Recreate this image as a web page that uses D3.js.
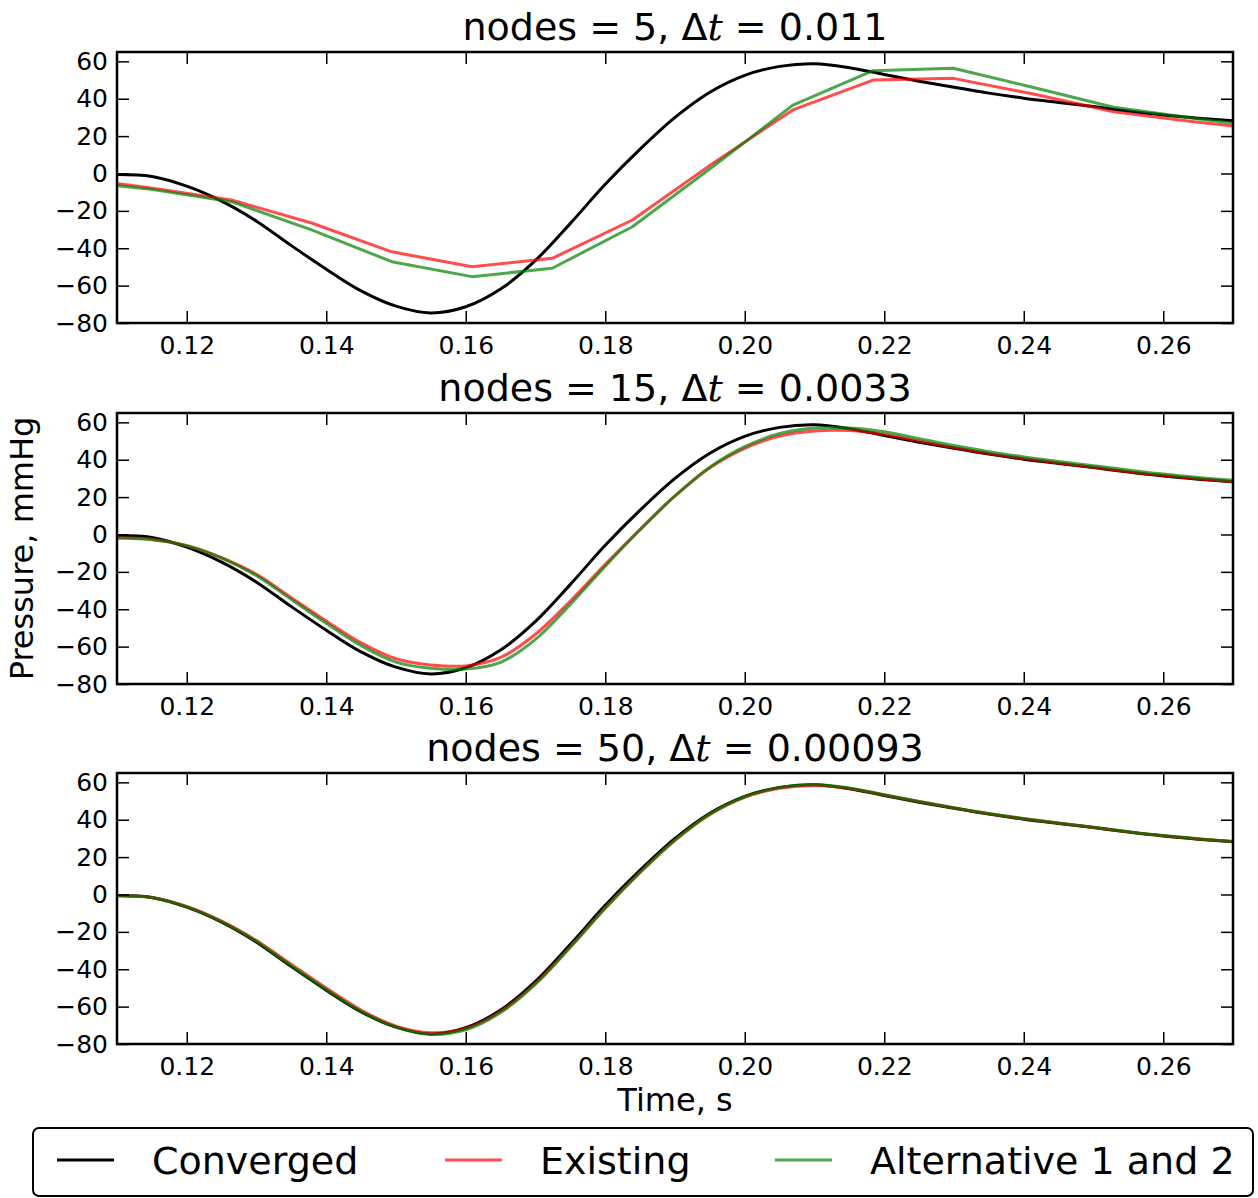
<!DOCTYPE html>
<html>
<head>
<meta charset="utf-8">
<script src="https://cdn.jsdelivr.net/npm/d3@7"></script>
<style>
  body { margin: 0; background: #fff; }
  text { font-family: "DejaVu Sans", sans-serif; fill: #000; }
</style>
</head>
<body>
<div id="chart"></div>
<script>
// Time samples for the smooth curves
var times = [0.110, 0.115, 0.120, 0.125, 0.130, 0.135, 0.140, 0.145, 0.150, 0.155, 0.160,
             0.165, 0.170, 0.175, 0.180, 0.185, 0.190, 0.195, 0.200, 0.205, 0.210, 0.215,
             0.220, 0.225, 0.230, 0.235, 0.240, 0.245, 0.250, 0.255, 0.260, 0.265, 0.270];

// Time steps of the coarse (5 nodes) run
var times5 = [0.1034, 0.1149, 0.1264, 0.1379, 0.1494, 0.1609, 0.1724, 0.1839,
              0.1954, 0.2069, 0.2184, 0.2299, 0.2414, 0.2529, 0.2644, 0.2759];

var converged = [-0.6, -1.6, -6.8, -14.8, -25.5, -38.6, -51.2, -62.8, -71.0, -74.6, -71.3,
                 -61.8, -46.5, -26.7, -5.8, 13.0, 30.0, 43.5, 52.5, 57.3, 58.7, 56.6,
                 53.0, 49.4, 46.1, 43.0, 40.3, 38.0, 35.8, 33.4, 31.3, 29.6, 28.2];

var existing5 = [-2.0, -7.8, -14.2, -26.5, -41.9, -49.9, -45.4, -24.9,
                 5.4, 34.0, 50.0, 50.9, 42.5, 33.0, 27.7, 23.0];
var alternative5 = [-3.8, -8.5, -15.1, -30.2, -47.2, -55.2, -50.7, -28.5,
                    3.6, 36.6, 55.0, 56.3, 46.0, 35.4, 29.5, 24.0];

var existing15 = [-1.7, -2.6, -6.0, -12.4, -21.3, -33.8, -46.3, -58.0, -66.5, -69.8, -70.3,
                  -65.8, -53.4, -35.6, -16.0, 2.8, 20.6, 35.7, 46.1, 52.7, 55.4, 55.6,
                  53.5, 50.0, 46.5, 43.3, 40.6, 38.2, 36.0, 33.6, 31.5, 29.8, 28.2];
var alternative15 = [-1.9, -2.8, -6.0, -12.6, -22.0, -34.8, -47.5, -59.5, -68.3, -71.6, -72.0,
                     -68.4, -56.1, -37.4, -17.0, 2.5, 20.6, 36.0, 47.0, 54.0, 57.0, 57.0,
                     55.0, 51.3, 47.6, 44.3, 41.5, 39.0, 36.8, 34.5, 32.3, 30.5, 29.0];

var existing50 = [-0.7, -1.6, -6.4, -14.2, -24.6, -37.4, -50.0, -61.8, -70.4, -74.0, -71.7,
                  -62.6, -47.6, -28.0, -7.2, 11.8, 29.0, 42.8, 52.0, 56.8, 58.3, 56.7,
                  53.2, 49.7, 46.3, 43.2, 40.5, 38.1, 35.9, 33.5, 31.4, 29.7, 28.3];
var alternative50 = [-0.7, -1.7, -6.6, -14.6, -25.2, -38.2, -50.9, -62.6, -71.0, -74.9, -72.4,
                     -63.2, -48.0, -28.2, -7.3, 11.8, 29.1, 43.0, 52.3, 57.3, 58.9, 57.0,
                     53.4, 49.8, 46.4, 43.3, 40.6, 38.2, 36.0, 33.6, 31.5, 29.8, 28.4];

var panelNodes = ["5", "15", "50"];
var panelDt = ["0.011", "0.0033", "0.00093"];
var seriesNames = ["Converged", "Existing", "Alternative 1 and 2"];
var xTicks = [0.12, 0.14, 0.16, 0.18, 0.20, 0.22, 0.24, 0.26];
var yTicks = [-80, -60, -40, -20, 0, 20, 40, 60];

(function()
{
    //Set dimensions
    var W = 1258, H = 1198;
    var left = 117, right = 1233;
    var panelTops = [52, 413, 773];
    var panelH = 271;
    var colors = ["#000000", "#ff0000", "#008000"];
    var opac = [1, 0.7, 0.7];

    var svg = d3.select("#chart").append("svg")
        .attr("width", W)
        .attr("height", H);

    //Scales
    var x = d3.scaleLinear().domain([0.11, 0.27]).range([0, right - left]);
    var y = d3.scaleLinear().domain([-80, 65]).range([panelH, 0]);

    var panels = [
        [{t: times, v: converged}, {t: times5, v: existing5, linear: true}, {t: times5, v: alternative5, linear: true}],
        [{t: times, v: converged}, {t: times, v: existing15}, {t: times, v: alternative15}],
        [{t: times, v: converged}, {t: times, v: existing50}, {t: times, v: alternative50}]
    ];

    panels.forEach(function(series, p) {
        var g = svg.append("g")
            .attr("transform", "translate(" + left + "," + panelTops[p] + ")");

        g.append("clipPath").attr("id", "clip" + p)
            .append("rect")
            .attr("width", x.range()[1])
            .attr("height", panelH);

        var plot = g.append("g").attr("clip-path", "url(#clip" + p + ")");

        series.forEach(function(s, i) {
            var pts = s.t.map(function(t, j) { return [t, s.v[j]]; });
            var line = d3.line()
                .x(function(d) { return x(d[0]); })
                .y(function(d) { return y(d[1]); })
                .curve(s.linear ? d3.curveLinear : d3.curveCatmullRom.alpha(0.5));
            plot.append("path")
                .datum(pts)
                .attr("d", line)
                .attr("fill", "none")
                .attr("stroke", colors[i])
                .attr("stroke-opacity", opac[i])
                .attr("stroke-width", 3)
                .attr("stroke-linejoin", "round");
        });

        // Add axes, ticks pointing inwards on all four sides
        var xb = g.append("g")
            .attr("transform", "translate(0," + panelH + ")")
            .call(d3.axisBottom(x).tickValues(xTicks).tickFormat(d3.format(".2f"))
                .tickSize(-12).tickPadding(13));
        var xt = g.append("g")
            .call(d3.axisTop(x).tickValues(xTicks).tickFormat("").tickSize(-12));
        var yl = g.append("g")
            .call(d3.axisLeft(y).tickValues(yTicks).tickSize(-12).tickPadding(9));
        var yr = g.append("g")
            .attr("transform", "translate(" + x.range()[1] + ",0)")
            .call(d3.axisRight(y).tickValues(yTicks).tickFormat("").tickSize(-12));

        [xb, xt, yl, yr].forEach(function(a) {
            a.select(".domain").remove();
            a.selectAll(".tick line").attr("stroke", "#000").attr("stroke-width", 1.5);
            a.selectAll("text")
                .attr("font-family", "DejaVu Sans")
                .attr("font-size", 25)
                .attr("fill", "#1a1a1a");
        });

        g.append("rect")
            .attr("width", x.range()[1])
            .attr("height", panelH)
            .attr("fill", "none")
            .attr("stroke", "#000")
            .attr("stroke-width", 2.5);

        // Title
        var title = g.append("text")
            .attr("x", x.range()[1] / 2)
            .attr("y", -12)
            .attr("text-anchor", "middle")
            .attr("font-size", 38)
            .style("white-space", "pre");
        title.append("tspan").text("nodes = " + panelNodes[p] + ", \u0394");
        title.append("tspan").attr("font-family", "DejaVu Serif").attr("font-style", "italic").text("t");
        title.append("tspan").attr("font-family", "DejaVu Serif").attr("font-weight", 300).text(" = ");
        title.append("tspan").text(panelDt[p]);
    });

    // Axis labels
    svg.append("text")
        .attr("x", (left + right) / 2)
        .attr("y", 1111)
        .attr("text-anchor", "middle")
        .attr("font-size", 32)
        .text("Time, s");

    svg.append("text")
        .attr("transform", "translate(33," + (panelTops[1] + panelH / 2) + ") rotate(-90)")
        .attr("text-anchor", "middle")
        .attr("font-size", 32)
        .text("Pressure, mmHg");

    // Legend
    var legend = svg.append("g");
    legend.append("rect")
        .attr("x", 33).attr("y", 1128)
        .attr("width", 1220).attr("height", 68)
        .attr("rx", 6)
        .attr("fill", "#fff")
        .attr("stroke", "#000")
        .attr("stroke-width", 2);

    var legX = [57, 445, 775];
    seriesNames.forEach(function(name, i) {
        legend.append("line")
            .attr("x1", legX[i]).attr("x2", legX[i] + 57)
            .attr("y1", 1160).attr("y2", 1160)
            .attr("stroke", colors[i])
            .attr("stroke-opacity", opac[i])
            .attr("stroke-width", 3);
        legend.append("text")
            .attr("x", legX[i] + 95)
            .attr("y", 1174)
            .attr("font-size", 38)
            .text(name);
    });
})();
</script>
</body>
</html>
